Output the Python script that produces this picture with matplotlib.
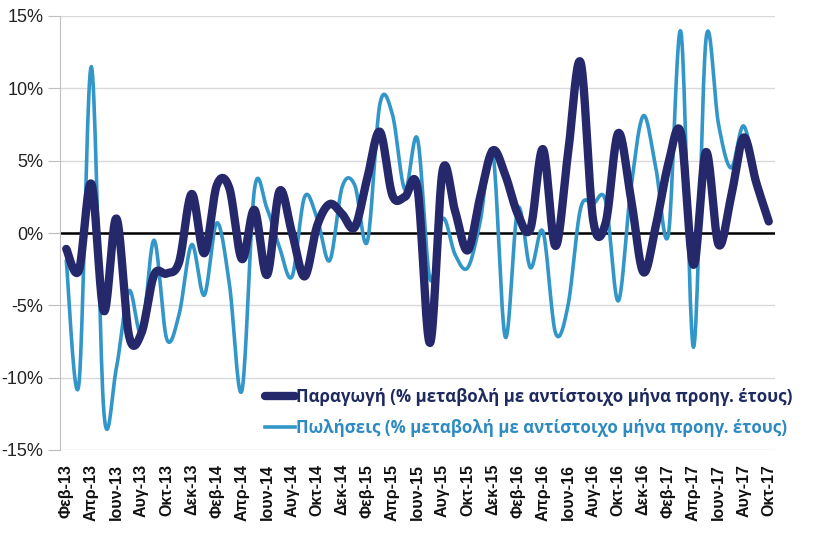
import numpy as np
import matplotlib
matplotlib.use("Agg")
import matplotlib.pyplot as plt
from matplotlib.lines import Line2D

plt.rcParams['axes.unicode_minus'] = False

# ---- data -------------------------------------------------------------
months_gr = ["Ιαν", "Φεβ", "Μαρ", "Απρ", "Μαϊ", "Ιουν", "Ιουλ", "Αυγ", "Σεπ", "Οκτ", "Νοε", "Δεκ"]
start_year = 13
n_months = 57  # Feb-13 .. Oct-17

production = [-1.1, -2.6, 3.4, -5.4, 1.0, -7.1, -6.9, -2.9, -2.8, -2.0,
              2.7, -1.4, 3.3, 3.1, -1.8, 1.6, -2.9, 2.9, 0.0, -3.0,
              0.5, 2.0, 1.3, 0.4, 3.8, 7.0, 2.6, 2.5, 3.1, -7.6,
              4.3, 1.5, -1.2, 2.5, 5.7, 4.0, 1.3, 0.3, 5.8, -0.9,
              5.5, 11.8, 0.9, 0.7, 6.9, 2.5, -2.7, 0.5, 4.8, 6.9,
              -2.2, 5.6, -0.8, 2.5, 6.6, 3.5, 0.8]

sales = [-1.9, -10.5, 11.5, -12.4, -9.3, -4.0, -6.9, -0.5, -7.3, -5.6,
         -0.8, -4.3, 0.7, -3.5, -10.9, 3.0, 1.7, -1.0, -3.0, 2.5,
         1.0, -1.9, 3.2, 3.3, -0.6, 8.9, 8.2, 3.0, 6.5, -3.2,
         1.0, -1.5, -2.4, 0.8, 5.6, -7.2, 1.7, -2.4, 0.1, -6.9,
         -5.0, 1.7, 2.0, 2.2, -4.7, 3.0, 8.1, 4.5, -0.1, 13.9,
         -7.9, 13.4, 7.5, 4.5, 7.4, 3.6]

label_prod = "Παραγωγή (% μεταβολή με αντίστοιχο μήνα προηγ. έτους)"
label_sales = "Πωλήσεις (% μεταβολή με αντίστοιχο μήνα προηγ. έτους)"

y_ticks = [-15, -10, -5, 0, 5, 10, 15]

# month labels
cat_labels = []
for i in range(n_months):
    m = (1 + i) % 12
    y = start_year + (1 + i) // 12
    cat_labels.append(f"{months_gr[m]}-{y}")


def smooth(yvals, n=20):
    """Excel-like smoothed line (Catmull-Rom Bezier, tension 1/6)."""
    y = np.asarray(yvals, float)
    x = np.arange(len(y), dtype=float)
    P = np.column_stack([x, y])
    Pp = np.vstack([P[0], P, P[-1]])
    out = [P[:1]]
    t = np.linspace(0, 1, n + 1)[1:, None]
    for i in range(len(P) - 1):
        p0, p1, p2, p3 = Pp[i], Pp[i + 1], Pp[i + 2], Pp[i + 3]
        c1 = p1 + (p2 - p0) / 6.0
        c2 = p2 - (p3 - p1) / 6.0
        seg = ((1 - t) ** 3) * p1 + 3 * ((1 - t) ** 2) * t * c1 + 3 * (1 - t) * t ** 2 * c2 + t ** 3 * p2
        out.append(seg)
    pts = np.vstack(out)
    return pts[:, 0], pts[:, 1]


c_prod = "#25296b"
c_sales = "#3396c9"

fig = plt.figure(figsize=(8.23, 5.38), dpi=100)
ax = fig.add_axes([60 / 823, 1 - 450 / 538, 715 / 823, 434 / 538])

ax.set_ylim(-15, 15)
ax.set_xlim(-0.5, n_months - 0.5)
ax.set_yticks(y_ticks)
ax.set_yticklabels([f"{v}%" for v in y_ticks], fontsize=13, family="Liberation Sans", color="#222222")
ax.grid(axis="y", color="#d9d9d9", linewidth=1.0)
ax.set_axisbelow(True)

for s in ["top", "right", "bottom"]:
    ax.spines[s].set_visible(False)
ax.spines["left"].set_color("#bfbfbf")
ax.tick_params(axis="y", length=9, color="#bfbfbf", pad=3)
ax.tick_params(axis="x", length=0, pad=10)

ax.axhline(0, color="black", linewidth=1.8, zorder=2)

xs, ys = smooth(production)
ax.plot(xs, ys, color=c_prod, linewidth=6.0, solid_capstyle="round", solid_joinstyle="round", zorder=4)
xs2, ys2 = smooth(sales)
ax.plot(xs2, ys2, color=c_sales, linewidth=2.6, solid_capstyle="round", zorder=3)

ticks = list(range(0, n_months, 2))
ax.set_xticks(ticks)
ax.set_xticklabels([cat_labels[i] for i in ticks], rotation=90, fontsize=11.5,
                   fontweight="bold", family="Liberation Sans", color="#111111", va="top", ha="center")

handles = [Line2D([], [], color=c_prod, linewidth=6.0, solid_capstyle="round"),
           Line2D([], [], color=c_sales, linewidth=2.6)]
leg = fig.legend(handles, [label_prod, label_sales], loc="upper left",
                 bbox_to_anchor=(253 / 823, 1 - 376 / 538), frameon=True, facecolor="white",
                 edgecolor="none", framealpha=1.0, handlelength=1.8, handletextpad=0.05,
                 labelspacing=0.8, borderpad=0.2,
                 prop={"family": ["Open Sans", "DejaVu Sans"], "weight": "bold", "size": 12.2})
for txt, col in zip(leg.get_texts(), ["#1f2a5e", "#2e8bc2"]):
    txt.set_color(col)

fig.savefig("out.png", dpi=100)
